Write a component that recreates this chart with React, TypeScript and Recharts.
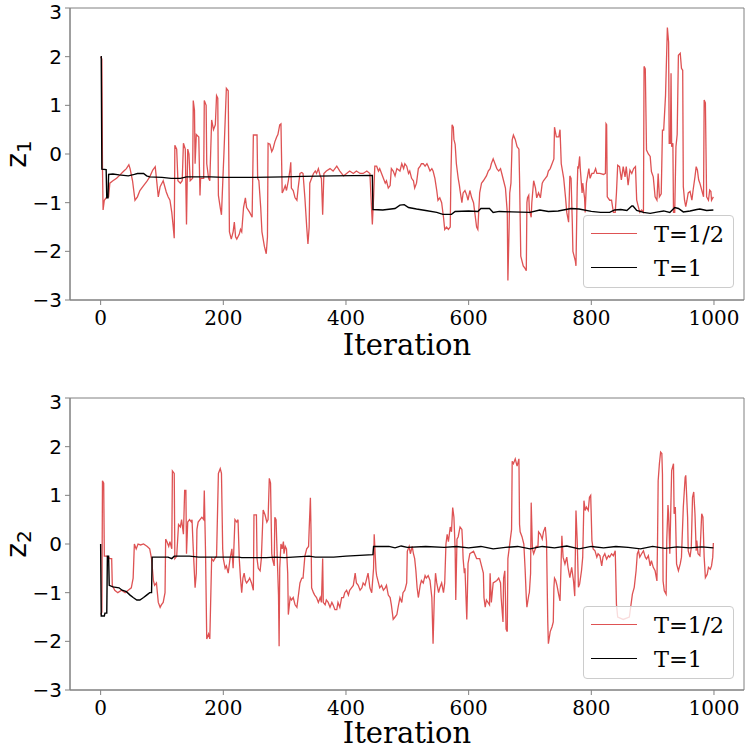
import { LineChart, Line, XAxis, YAxis, Legend, Label, ReferenceArea } from 'recharts'

// iteration / value pairs
const z1Half: [number, number][] = [
	[0, 2.0], [2, 1.95], [3, -0.3], [4, -1.15], [6, -0.95], [9, -0.9], [13, -0.88], [15, -0.6], [20, -0.55], [26, -0.5],
	[30, -0.45], [37, -0.36], [42, -0.3], [46, -0.22], [48, -0.3], [52, -0.55], [56, -0.95], [60, -0.88], [64, -0.75], [70, -0.65],
	[75, -0.57], [80, -0.47], [85, -0.33], [89, -0.26], [91, -0.5], [94, -0.88], [97, -0.67], [102, -0.55], [107, -0.78], [110, -0.88],
	[113, -0.95], [116, -1.2], [118, -1.45], [120, -1.73], [121, 0.18], [124, 0.1], [126, -0.55], [130, -0.6], [133, -0.55], [135, 0.22],
	[138, 0.1], [140, -1.45], [142, 0.1], [144, 0.0], [146, -0.55], [150, -0.5], [151, 1.1], [153, 0.9], [154, -0.2], [156, 0.4],
	[160, 0.35], [162, -0.85], [163, -0.5], [168, -0.5], [169, 1.1], [172, 1.0], [173, -0.2], [176, -0.5], [178, -0.55], [181, 0.7],
	[184, 0.5], [187, 0.6], [189, 1.2], [191, 1.15], [192, -0.85], [195, -1.1], [197, -1.25], [200, -0.3], [201, 0.0], [205, 1.35],
	[208, 1.3], [210, -1.6], [213, -1.75], [216, -1.6], [218, -1.4], [220, -1.7], [222, -1.75], [226, -1.65], [228, -1.55], [230, -1.6],
	[233, -1.1], [236, -0.9], [238, -1.1], [243, -1.2], [247, -1.3], [249, 0.39], [255, 0.39], [256, -0.5], [258, -0.55], [261, -1.1],
	[263, -1.6], [267, -1.9], [270, -2.05], [272, -1.7], [273, 0.22], [276, 0.2], [279, 0.05], [281, 0.1], [284, 0.25], [287, 0.35],
	[289, 0.4], [292, 0.6], [294, 0.62], [296, -0.8], [298, -0.75], [301, -0.65], [303, -0.75], [306, -0.55], [309, -0.3], [310, -0.17],
	[311, -0.7], [314, -0.75], [317, -0.9], [320, -0.95], [322, -0.7], [325, -0.4], [328, -0.38], [330, -0.4], [333, -0.9], [336, -1.5],
	[338, -1.85], [340, -1.5], [341, -0.6], [344, -0.5], [347, -0.4], [350, -0.35], [352, -0.4], [355, -0.3], [358, -0.45], [360, -0.5],
	[362, -1.25], [364, -0.4], [368, -0.35], [374, -0.3], [379, -0.35], [385, -0.25], [390, -0.35], [396, -0.45], [401, -0.4], [406, -0.35],
	[412, -0.4], [417, -0.35], [423, -0.4], [428, -0.4], [434, -0.35], [439, -0.4], [443, -1.45], [445, -0.9], [447, -0.25], [450, -0.25],
	[453, -0.35], [455, -0.3], [458, -0.4], [461, -0.5], [464, -0.6], [466, -0.55], [469, -0.7], [472, -0.65], [474, -0.3], [477, -0.35],
	[480, -0.45], [483, -0.3], [488, -0.35], [491, -0.2], [494, -0.3], [496, -0.2], [499, -0.25], [502, -0.4], [504, -0.35], [507, -0.5],
	[510, -0.55], [512, -0.7], [515, -0.6], [518, -0.3], [521, -0.25], [523, -0.2], [526, -0.2], [529, -0.25], [532, -0.2], [534, -0.25],
	[537, -0.35], [540, -0.3], [542, -0.35], [545, -0.5], [548, -0.75], [550, -0.95], [553, -0.9], [556, -1.0], [559, -1.3], [561, -1.55],
	[564, -1.5], [567, -1.55], [570, -1.5], [571, -0.5], [573, 0.6], [575, 0.55], [576, 0.3], [578, 0.2], [580, -0.2], [583, -0.5],
	[585, -0.65], [586, -0.75], [589, -1.0], [591, -0.8], [594, -0.75], [597, -0.85], [599, -0.95], [602, -0.75], [605, -0.9], [608, -1.0],
	[610, -1.2], [613, -1.5], [615, -1.55], [616, -1.3], [618, -0.8], [621, -0.6], [624, -0.55], [629, -0.45], [632, -0.35], [635, -0.3],
	[637, -0.2], [640, -0.1], [643, -0.2], [646, -0.3], [649, -0.35], [652, -0.3], [654, -0.4], [657, -0.55], [660, -0.7], [663, -1.2],
	[664, -2.6], [666, -1.5], [667, -0.8], [669, -0.6], [671, 0.29], [673, 0.39], [676, 0.3], [679, 0.15], [682, 0.1], [683, -0.5],
	[684, -1.3], [685, -2.1], [689, -2.3], [692, -2.35], [694, -2.4], [695, -1.0], [696, -0.9], [698, -0.85], [699, -1.15], [702, -1.3],
	[703, -1.0], [706, -0.55], [709, -0.7], [711, -0.9], [714, -0.8], [717, -0.9], [720, -0.6], [722, -0.55], [725, -0.5], [728, -0.45],
	[730, -0.35], [733, -0.3], [736, -0.2], [739, -0.1], [740, 0.55], [743, 0.35], [747, 0.35], [749, 0.5], [751, -0.2], [755, -0.5],
	[758, -0.9], [760, -1.2], [763, -1.4], [765, -0.45], [767, -0.5], [769, -1.4], [770, -2.0], [774, -2.2], [775, -2.3], [777, -0.7],
	[778, -0.25], [779, -0.3], [781, -0.05], [782, -0.3], [785, -0.8], [786, -0.6], [789, -0.9], [790, -1.2], [792, -0.6], [796, -0.3],
	[798, -0.5], [801, -0.4], [804, -0.4], [807, -0.3], [809, -0.4], [814, -0.4], [820, -0.42], [823, -0.4], [824, 0.62], [825, 0.6],
	[826, -0.88], [830, -0.95], [833, -0.95], [836, -1.2], [839, -1.2], [841, -0.8], [843, -0.23], [846, -0.26], [849, -0.53], [852, -0.26],
	[855, -0.47], [857, -0.26], [860, -0.64], [863, -0.33], [866, -0.4], [869, -0.3], [872, -0.26], [874, -0.95], [876, -1.05], [879, -1.2],
	[882, -1.15], [885, -1.2], [886, 1.8], [888, 1.75], [890, 0.08], [893, 0.0], [896, -0.05], [898, -0.36], [901, -0.47], [904, -0.88],
	[907, -0.95], [909, -0.4], [911, -0.88], [914, -0.82], [916, 0.49], [918, 0.49], [921, 1.2], [924, 2.6], [926, 2.3], [927, 0.22],
	[929, 0.22], [930, 1.66], [931, 0.15], [933, 0.22], [934, -1.2], [936, -1.2], [938, 0.15], [940, 0.4], [942, 2.03], [945, 2.07],
	[947, 1.76], [949, 1.72], [950, -0.67], [952, -0.95], [954, -1.08], [956, -0.95], [958, -0.8], [961, -0.77], [964, -0.95], [966, -0.74],
	[969, -0.47], [971, -0.26], [973, -0.33], [975, -0.53], [977, -0.6], [980, -0.74], [983, -0.88], [984, 1.11], [986, 1.05], [988, -0.88],
	[991, -0.95], [993, -0.74], [995, -0.77], [996, -0.95], [999, -0.88],
]

const z1One: [number, number][] = [
	[0, 2.0], [1, 2.0], [2, -0.31], [9, -0.32], [10, -0.9], [12, -0.9], [13, -0.42], [20, -0.41], [30, -0.43], [45, -0.45],
	[55, -0.42], [60, -0.4], [70, -0.4], [75, -0.45], [80, -0.47], [100, -0.48], [115, -0.5], [130, -0.5], [140, -0.47], [180, -0.47],
	[200, -0.48], [250, -0.48], [300, -0.47], [330, -0.46], [380, -0.45], [443, -0.44], [444, -1.14], [460, -1.15], [480, -1.12], [488, -1.05],
	[495, -1.04], [502, -1.1], [515, -1.13], [530, -1.16], [548, -1.2], [558, -1.24], [572, -1.24], [578, -1.18], [600, -1.17], [615, -1.18],
	[620, -1.12], [634, -1.12], [640, -1.2], [650, -1.18], [670, -1.19], [700, -1.2], [716, -1.15], [730, -1.18], [746, -1.17], [767, -1.12],
	[780, -1.13], [800, -1.18], [815, -1.2], [830, -1.2], [838, -1.15], [848, -1.14], [858, -1.16], [866, -1.07], [868, -1.07], [874, -1.16],
	[885, -1.2], [896, -1.22], [909, -1.19], [918, -1.17], [928, -1.2], [936, -1.1], [942, -1.12], [950, -1.19], [961, -1.17], [972, -1.14],
	[977, -1.13], [988, -1.16], [999, -1.15],
]

const z2Half: [number, number][] = [
	[0, -1.45], [2, -1.4], [3, 1.3], [5, 1.25], [6, -0.25], [10, -0.25], [15, -0.3], [18, -0.3], [19, -0.85], [23, -0.95],
	[28, -1.0], [34, -0.95], [40, -1.0], [45, -0.95], [50, -0.9], [53, -0.7], [55, 0.0], [58, -0.1], [61, 0.0], [65, -0.02],
	[70, 0.0], [76, -0.05], [80, -0.1], [83, -0.3], [86, -0.75], [88, -0.85], [91, -0.8], [94, -1.2], [97, -1.3], [99, -1.25],
	[102, -1.2], [105, -1.0], [106, 0.1], [108, 0.05], [111, -0.05], [113, 0.05], [116, -0.1], [117, 1.5], [120, 1.45], [121, -0.3],
	[124, -0.25], [127, 0.4], [130, 0.35], [132, 0.5], [135, 0.2], [137, 1.1], [139, 1.1], [140, -0.2], [142, 0.45], [145, 0.5],
	[148, 0.45], [149, 0.5], [151, -0.1], [154, -0.9], [156, -0.6], [157, 0.3], [159, 0.45], [162, 0.5], [165, 0.55], [168, 0.5],
	[169, 1.1], [171, -0.15], [173, -1.95], [176, -1.85], [178, -1.95], [181, -0.3], [184, -0.35], [186, -0.3], [189, -0.25], [192, 1.45],
	[195, 1.55], [197, 1.45], [199, -0.1], [200, -0.3], [203, -0.5], [205, -0.45], [208, -0.6], [211, -0.3], [214, -0.1], [216, -0.5],
	[219, 0.5], [222, 0.45], [224, 0.5], [226, -0.3], [228, -0.7], [230, -1.0], [232, -0.7], [234, -0.6], [236, -0.75], [238, -0.8],
	[241, -0.75], [243, -0.7], [246, -0.8], [249, -0.95], [250, 0.6], [254, 0.6], [255, -0.3], [257, -0.5], [260, -0.55], [262, -0.3],
	[265, 0.7], [268, 0.6], [271, 0.45], [273, 0.5], [275, 1.35], [277, 1.25], [279, -0.2], [280, -0.3], [283, -0.45], [284, 0.55],
	[286, 0.5], [288, -0.3], [290, -1.05], [291, -2.1], [292, -0.5], [294, 0.0], [296, -0.1], [298, 0.05], [299, -0.2], [301, -0.05],
	[303, -0.1], [305, -0.6], [306, -1.45], [309, -1.1], [311, -1.15], [314, -1.1], [317, -1.25], [320, -1.3], [322, -1.1], [325, -0.8],
	[328, -0.7], [330, -0.7], [333, -0.25], [336, -0.1], [339, -0.05], [340, 0.3], [342, 0.95], [343, 0.3], [344, -0.9], [347, -1.0],
	[349, -1.05], [352, -1.1], [355, -1.2], [358, -1.1], [360, -1.2], [362, -0.3], [363, -1.2], [366, -1.25], [368, -1.15], [371, -1.2],
	[374, -1.3], [377, -1.2], [379, -1.25], [382, -1.35], [385, -1.35], [387, -1.2], [390, -1.3], [393, -1.1], [396, -1.1], [398, -1.0],
	[401, -0.95], [404, -1.05], [406, -0.95], [409, -0.9], [412, -0.85], [415, -0.6], [417, -0.8], [420, -0.85], [423, -0.95], [426, -0.9],
	[428, -0.8], [431, -0.85], [434, -0.7], [436, -0.6], [439, -0.9], [442, -1.0], [445, -0.5], [446, 0.2], [448, -0.3], [449, -0.55],
	[450, -0.65], [453, -0.8], [455, -0.9], [458, -0.85], [461, -0.95], [464, -0.9], [466, -0.85], [469, -1.05], [472, -1.1], [474, -1.25],
	[477, -1.55], [480, -1.5], [483, -1.45], [485, -1.3], [488, -1.1], [491, -1.2], [493, -1.0], [496, -0.95], [499, -0.8], [500, -0.15],
	[503, -0.05], [505, -0.2], [508, -0.05], [510, -0.2], [512, -0.3], [514, -0.55], [516, -0.9], [518, -1.1], [521, -0.85], [523, -0.75],
	[526, -0.8], [529, -0.65], [531, -0.7], [534, -0.65], [537, -0.75], [540, -1.1], [542, -2.05], [544, -1.1], [546, -0.6], [548, -0.8],
	[551, -1.0], [553, -0.9], [556, -0.8], [559, -1.0], [561, -0.8], [563, 0.0], [565, 0.2], [567, 0.05], [570, 0.35], [572, 0.25],
	[574, 0.75], [576, 0.55], [578, -0.1], [579, -1.15], [581, 0.1], [583, 0.15], [586, 0.35], [589, 0.3], [590, 0.05], [591, -0.3],
	[593, -0.6], [594, -0.5], [597, -1.55], [598, -1.0], [599, -0.4], [602, -0.2], [608, -0.15], [613, -0.3], [618, -0.3], [621, -0.45],
	[624, -0.6], [625, -1.1], [627, -1.3], [629, -1.15], [634, -1.25], [635, -0.6], [637, -1.2], [640, -0.8], [646, -0.75], [649, -0.7],
	[652, -0.8], [653, -1.1], [656, -1.6], [657, -0.7], [659, -0.55], [660, -1.1], [661, -1.75], [663, -1.8], [664, -0.3], [666, -0.1],
	[668, 0.1], [670, 0.3], [671, 1.7], [673, 1.65], [676, 1.75], [679, 1.6], [682, 1.75], [683, 0.4], [684, 0.25], [687, 0.15],
	[690, 0.0], [692, -0.5], [694, -1.1], [695, -1.3], [698, -1.05], [699, -1.0], [701, -0.6], [702, 0.85], [704, -0.1], [706, -0.2],
	[710, -0.05], [713, -0.05], [714, 0.25], [717, 0.2], [720, 0.1], [722, 0.25], [725, 0.35], [727, 0.05], [728, -0.8], [729, -1.6],
	[730, -2.05], [733, -1.8], [736, -1.7], [738, -1.6], [739, -0.9], [740, -0.7], [742, -0.75], [744, -0.85], [747, -1.05], [749, -1.17],
	[752, 0.17], [754, -0.27], [757, -0.41], [760, -0.27], [762, -0.48], [765, -0.69], [768, -0.48], [771, -0.76], [773, -1.07], [775, 0.69],
	[777, 0.07], [779, -0.89], [781, -0.82], [784, -0.55], [786, -0.27], [788, 0.89], [790, 0.69], [792, 0.76], [795, 0.69], [797, 0.96],
	[799, 1.0], [801, 0.07], [803, -0.1], [806, -0.14], [809, -0.27], [811, -0.2], [814, -0.24], [817, -0.45], [819, -0.27], [822, -0.2],
	[825, -0.31], [828, -0.24], [830, -0.27], [833, -0.2], [836, -0.24], [839, -0.14], [841, -1.24], [843, -1.5], [852, -1.55], [862, -1.5],
	[867, -1.03], [870, -0.89], [873, -0.55], [875, -0.2], [877, -0.14], [879, -0.27], [882, -0.2], [885, -0.14], [888, -0.27], [890, -0.31],
	[893, -0.24], [896, -0.45], [898, -0.34], [901, -0.48], [904, -0.55], [907, -0.76], [908, 0.07], [909, 1.3], [911, 1.65], [913, 1.89],
	[915, 1.86], [916, 1.44], [917, -0.76], [919, -0.96], [922, -1.03], [923, 0.07], [925, 0.8], [926, 0.62], [928, -0.2], [931, 1.51],
	[934, 1.65], [935, 0.62], [937, 0.76], [939, -0.41], [942, -0.55], [945, -0.41], [947, -0.27], [948, 0.07], [950, 0.76], [953, 1.37],
	[954, 1.41], [957, 0.55], [958, -0.14], [961, -0.27], [963, -0.07], [965, 0.96], [967, 1.07], [969, 0.62], [971, -0.14], [972, 0.07],
	[974, -0.2], [977, -0.24], [980, 0.62], [982, 0.55], [984, -0.27], [986, -0.69], [989, -0.62], [991, -0.48], [994, -0.52], [996, -0.45],
	[998, -0.27], [999, 0.02],
]

const z2One: [number, number][] = [
	[0, 0.0], [1, -1.48], [6, -1.48], [7, -1.42], [10, -1.42], [11, -0.25], [13, -0.25], [14, -0.85], [20, -0.88], [30, -0.9],
	[35, -0.95], [42, -0.98], [48, -1.05], [53, -1.1], [59, -1.15], [64, -1.15], [70, -1.1], [75, -1.05], [80, -1.0], [83, -1.0],
	[84, -0.27], [100, -0.27], [110, -0.27], [116, -0.3], [120, -0.25], [145, -0.25], [160, -0.27], [200, -0.27], [225, -0.27], [230, -0.28],
	[270, -0.28], [285, -0.27], [300, -0.28], [340, -0.25], [350, -0.27], [380, -0.27], [400, -0.25], [444, -0.22], [445, -0.05], [470, -0.05],
	[480, -0.08], [490, -0.04], [500, -0.07], [530, -0.05], [560, -0.07], [580, -0.05], [600, -0.08], [620, -0.05], [640, -0.1], [660, -0.07],
	[680, -0.05], [700, -0.1], [720, -0.05], [740, -0.08], [760, -0.04], [780, -0.1], [800, -0.05], [820, -0.08], [840, -0.05], [860, -0.07],
	[880, -0.1], [900, -0.05], [920, -0.09], [940, -0.06], [960, -0.08], [980, -0.06], [999, -0.08],
]

const xTicks = [0, 200, 400, 600, 800, 1000]
const yTicks = [-3, -2, -1, 0, 1, 2, 3]
const seriesNames = ['T=1/2', 'T=1']

const RED = '#d62728'
const FRAME = '#808080'
const X_DOMAIN: [number, number] = [-49.95, 1048.95]

const toPoints = (arr: [number, number][]) => arr.map(([x, y]) => ({ x, y }))
const fmtY = (v: number) => (v < 0 ? `\u2212${-v}` : `${v}`)

const AxisName = ({ viewBox, sub }: any) => {
	const cy = viewBox.y + viewBox.height / 2
	const x = 26
	return (
		<text
			x={x}
			y={cy}
			transform={`rotate(-90, ${x}, ${cy})`}
			textAnchor="middle"
			fontFamily="DejaVu Sans"
			fontSize={28}
			fill="#000"
		>
			z<tspan fontSize={20} dy={5}>{sub}</tspan>
		</text>
	)
}

const BoxLegend = ({ payload }: any) => {
	// keep the plotting order, not the alphabetical one
	const items = [...(payload || [])].sort(
		(a: any, b: any) => seriesNames.indexOf(a.value) - seriesNames.indexOf(b.value)
	)
	return (
		<div
			style={{
				width: 151,
				height: 73,
				boxSizing: 'border-box',
				background: 'rgba(255,255,255,0.8)',
				border: '1px solid #cccccc',
				borderRadius: 4,
				position: 'relative',
				fontFamily: 'DejaVu Serif',
				fontSize: 22.5,
				color: '#000',
			}}
		>
			{items.map((item: any, i: number) => (
				<div key={item.value} style={{ position: 'absolute', left: 0, top: 3 + i * 34, height: 30, width: 150 }}>
					<div
						style={{
							position: 'absolute',
							left: 7,
							top: 14,
							width: 46,
							height: 0,
							borderTop: `1.5px solid ${item.color}`,
							opacity: item.value === seriesNames[0] ? 0.8 : 1,
						}}
					/>
					<span style={{ position: 'absolute', left: 70, top: 0, lineHeight: '30px', whiteSpace: 'nowrap' }}>
						{item.value}
					</span>
				</div>
			))}
		</div>
	)
}

interface TraceProps {
	half: [number, number][]
	one: [number, number][]
	sub: string
	height: number
	axisHeight: number
	labelOffset: number
	legendTop: number
}

function Trace({ half, one, sub, height, axisHeight, labelOffset, legendTop }: TraceProps) {
	return (
		<LineChart width={747} height={height} margin={{ top: 8, right: 3, left: 0, bottom: 0 }}>
			<XAxis
				dataKey="x"
				type="number"
				domain={X_DOMAIN}
				ticks={xTicks}
				allowDataOverflow
				height={axisHeight}
				stroke={FRAME}
				tickSize={5}
				tickMargin={6}
				tick={{ fill: '#000', fontFamily: 'DejaVu Serif', fontSize: 20 }}
			>
				<Label
					value="Iteration"
					position="insideBottom"
					offset={labelOffset}
					fontFamily="DejaVu Serif"
					fontSize={29}
					fill="#000"
				/>
			</XAxis>
			<YAxis
				dataKey="y"
				type="number"
				domain={[-3, 3]}
				ticks={yTicks}
				allowDataOverflow
				width={70}
				stroke={FRAME}
				tickSize={5}
				tickMargin={3}
				tickFormatter={fmtY}
				tick={{ fill: '#000', fontFamily: 'DejaVu Sans', fontSize: 20 }}
			>
				<Label content={(p: any) => <AxisName viewBox={p.viewBox} sub={sub} />} />
			</YAxis>
			<ReferenceArea
				x1={X_DOMAIN[0]}
				x2={X_DOMAIN[1]}
				y1={-3}
				y2={3}
				fill="none"
				fillOpacity={0}
				stroke={FRAME}
				strokeWidth={1}
				ifOverflow="visible"
			/>
			<Line
				data={toPoints(half)}
				dataKey="y"
				name={seriesNames[0]}
				type="linear"
				stroke={RED}
				strokeOpacity={0.8}
				strokeWidth={1.3}
				dot={false}
				isAnimationActive={false}
			/>
			<Line
				data={toPoints(one)}
				dataKey="y"
				name={seriesNames[1]}
				type="linear"
				stroke="#000"
				strokeWidth={1.4}
				dot={false}
				isAnimationActive={false}
			/>
			<Legend
				layout="vertical"
				align="center"
				verticalAlign="middle"
				wrapperStyle={{ left: 583, top: legendTop, width: 151, height: 73 }}
				content={<BoxLegend />}
			/>
		</LineChart>
	)
}

export default function App() {
	return (
		<div
			style={{
				position: 'absolute',
				left: 0,
				top: 0,
				width: 747,
				height: 749,
				overflow: 'hidden',
				background: '#fff',
			}}
		>
			<div style={{ position: 'absolute', left: 0, top: 0 }}>
				<Trace half={z1Half} one={z1One} sub="1" height={370} axisHeight={70} labelOffset={15} legendTop={215} />
			</div>
			<div style={{ position: 'absolute', left: 0, top: 390 }}>
				<Trace half={z2Half} one={z2One} sub="2" height={359} axisHeight={59} labelOffset={6} legendTop={216} />
			</div>
		</div>
	)
}
